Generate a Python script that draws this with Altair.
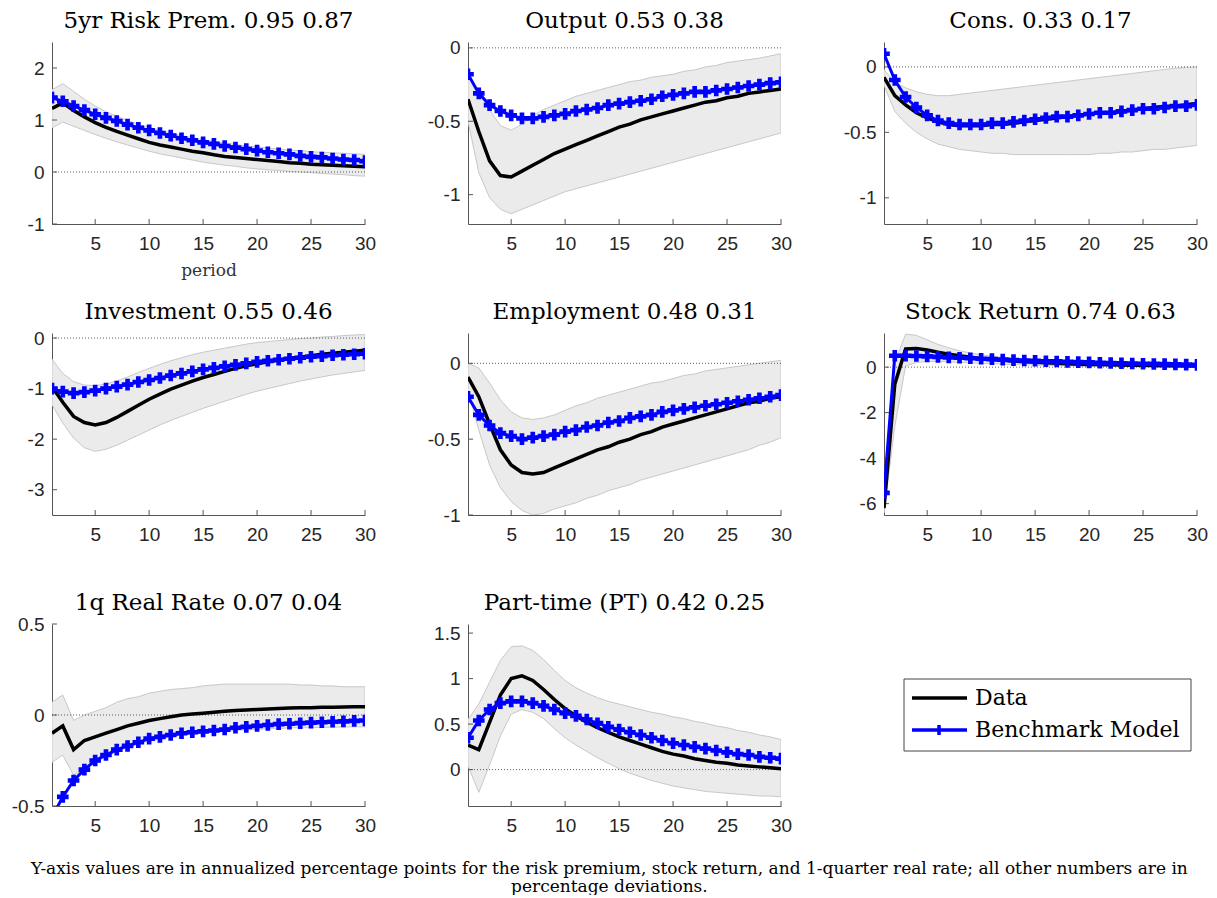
import altair as alt
import pandas as pd

periods = list(range(1, 31))
x_ticks = [5, 10, 15, 20, 25, 30]

# 5yr risk premium
rp_data = [1.22, 1.33, 1.18, 1.06, 0.95, 0.86, 0.78, 0.71, 0.64, 0.57,
           0.52, 0.48, 0.44, 0.40, 0.37, 0.33, 0.30, 0.28, 0.26, 0.24,
           0.22, 0.20, 0.18, 0.17, 0.15, 0.14, 0.13, 0.12, 0.11, 0.10]
rp_model = [1.43, 1.36, 1.27, 1.19, 1.11, 1.04, 0.98, 0.91, 0.85, 0.80,
            0.75, 0.70, 0.65, 0.61, 0.57, 0.54, 0.50, 0.47, 0.44, 0.41,
            0.38, 0.36, 0.34, 0.31, 0.29, 0.28, 0.26, 0.24, 0.23, 0.21]
rp_hi = [1.58, 1.70, 1.55, 1.40, 1.27, 1.16, 1.07, 0.99, 0.92, 0.86,
         0.80, 0.75, 0.70, 0.66, 0.62, 0.59, 0.56, 0.53, 0.50, 0.48,
         0.46, 0.44, 0.42, 0.41, 0.39, 0.38, 0.37, 0.36, 0.35, 0.34]
rp_lo = [0.85, 0.96, 0.88, 0.80, 0.72, 0.65, 0.58, 0.52, 0.46, 0.40,
         0.35, 0.31, 0.27, 0.23, 0.19, 0.16, 0.13, 0.11, 0.08, 0.06,
         0.04, 0.03, 0.01, 0.00, -0.01, -0.03, -0.04, -0.05, -0.07, -0.08]

# output
y_data = [-0.35, -0.57, -0.77, -0.87, -0.88, -0.84, -0.80, -0.76, -0.72, -0.69,
          -0.66, -0.63, -0.60, -0.57, -0.54, -0.52, -0.49, -0.47, -0.45, -0.43,
          -0.41, -0.39, -0.37, -0.36, -0.34, -0.33, -0.31, -0.30, -0.29, -0.28]
y_model = [-0.18, -0.31, -0.39, -0.43, -0.46, -0.48, -0.48, -0.47, -0.46, -0.45,
           -0.43, -0.42, -0.41, -0.39, -0.38, -0.37, -0.36, -0.35, -0.33, -0.32,
           -0.31, -0.30, -0.30, -0.29, -0.28, -0.27, -0.26, -0.25, -0.24, -0.235]
y_hi = [-0.20, -0.30, -0.42, -0.53, -0.56, -0.52, -0.46, -0.42, -0.39, -0.36,
        -0.33, -0.31, -0.29, -0.27, -0.25, -0.23, -0.22, -0.20, -0.19, -0.18,
        -0.16, -0.15, -0.13, -0.12, -0.10, -0.09, -0.08, -0.07, -0.055, -0.04]
y_lo = [-0.50, -0.85, -1.02, -1.10, -1.13, -1.10, -1.07, -1.04, -1.01, -0.98,
        -0.96, -0.94, -0.92, -0.90, -0.88, -0.86, -0.84, -0.82, -0.80, -0.78,
        -0.76, -0.74, -0.72, -0.70, -0.68, -0.66, -0.64, -0.62, -0.60, -0.58]

# consumption
c_data = [-0.08, -0.22, -0.29, -0.35, -0.39, -0.42, -0.44, -0.45, -0.45, -0.45,
          -0.44, -0.44, -0.43, -0.42, -0.41, -0.40, -0.39, -0.38, -0.37, -0.36,
          -0.35, -0.35, -0.34, -0.33, -0.32, -0.31, -0.30, -0.30, -0.29, -0.28]
c_model = [0.10, -0.10, -0.23, -0.31, -0.37, -0.41, -0.43, -0.44, -0.44, -0.44,
           -0.43, -0.43, -0.42, -0.41, -0.40, -0.39, -0.38, -0.38, -0.37, -0.36,
           -0.35, -0.35, -0.34, -0.33, -0.32, -0.32, -0.31, -0.30, -0.30, -0.29]
c_hi = [-0.02, -0.12, -0.16, -0.19, -0.21, -0.22, -0.22, -0.21, -0.20, -0.19,
        -0.18, -0.17, -0.16, -0.15, -0.14, -0.13, -0.12, -0.11, -0.10, -0.09,
        -0.08, -0.07, -0.06, -0.05, -0.04, -0.03, -0.02, -0.01, -0.005, 0.0]
c_lo = [-0.14, -0.34, -0.43, -0.50, -0.55, -0.59, -0.61, -0.63, -0.64, -0.65,
        -0.66, -0.66, -0.67, -0.67, -0.67, -0.67, -0.67, -0.67, -0.67, -0.67,
        -0.66, -0.66, -0.65, -0.65, -0.64, -0.63, -0.63, -0.62, -0.61, -0.60]

# investment
i_data = [-0.96, -1.27, -1.55, -1.67, -1.72, -1.67, -1.57, -1.45, -1.33, -1.21,
          -1.11, -1.01, -0.93, -0.85, -0.78, -0.72, -0.66, -0.60, -0.55, -0.51,
          -0.47, -0.44, -0.40, -0.38, -0.35, -0.32, -0.30, -0.28, -0.26, -0.24]
i_model = [-1.00, -1.06, -1.09, -1.07, -1.04, -1.00, -0.96, -0.92, -0.87, -0.83,
           -0.79, -0.74, -0.70, -0.66, -0.62, -0.59, -0.56, -0.53, -0.50, -0.47,
           -0.45, -0.43, -0.41, -0.39, -0.37, -0.36, -0.34, -0.33, -0.32, -0.31]
i_hi = [-0.42, -0.70, -0.86, -0.93, -0.94, -0.91, -0.85, -0.77, -0.68, -0.60,
        -0.52, -0.45, -0.39, -0.33, -0.28, -0.24, -0.20, -0.16, -0.12, -0.09,
        -0.07, -0.05, -0.03, -0.01, 0.00, 0.02, 0.03, 0.05, 0.06, 0.07]
i_lo = [-1.32, -1.68, -1.98, -2.17, -2.24, -2.20, -2.12, -2.02, -1.92, -1.82,
        -1.72, -1.63, -1.55, -1.47, -1.39, -1.32, -1.25, -1.18, -1.11, -1.05,
        -1.00, -0.95, -0.90, -0.85, -0.81, -0.77, -0.73, -0.70, -0.67, -0.64]

# employment
n_data = [-0.09, -0.22, -0.40, -0.57, -0.67, -0.72, -0.73, -0.72, -0.69, -0.66,
          -0.63, -0.60, -0.57, -0.55, -0.52, -0.50, -0.47, -0.45, -0.42, -0.40,
          -0.38, -0.36, -0.34, -0.32, -0.30, -0.28, -0.26, -0.25, -0.23, -0.22]
n_model = [-0.22, -0.34, -0.41, -0.46, -0.48, -0.50, -0.49, -0.48, -0.47, -0.45,
           -0.44, -0.42, -0.41, -0.39, -0.38, -0.36, -0.35, -0.34, -0.32, -0.31,
           -0.30, -0.29, -0.28, -0.27, -0.26, -0.25, -0.24, -0.23, -0.22, -0.21]
n_hi = [0.00, -0.03, -0.13, -0.24, -0.32, -0.36, -0.37, -0.36, -0.34, -0.31,
        -0.28, -0.26, -0.23, -0.21, -0.19, -0.17, -0.15, -0.13, -0.12, -0.10,
        -0.08, -0.07, -0.05, -0.04, -0.03, -0.02, -0.01, 0.00, 0.01, 0.02]
n_lo = [-0.18, -0.44, -0.67, -0.82, -0.91, -0.97, -1.00, -0.99, -0.96, -0.94,
        -0.92, -0.89, -0.87, -0.84, -0.82, -0.80, -0.77, -0.75, -0.73, -0.71,
        -0.69, -0.67, -0.65, -0.63, -0.61, -0.59, -0.57, -0.54, -0.52, -0.49]

# stock return
s_data = [-6.20, -0.75, 0.80, 0.82, 0.75, 0.65, 0.57, 0.50, 0.44, 0.38,
          0.34, 0.30, 0.27, 0.24, 0.21, 0.19, 0.17, 0.15, 0.13, 0.12,
          0.11, 0.10, 0.09, 0.08, 0.08, 0.07, 0.06, 0.06, 0.05, 0.05]
s_model = [-5.53, 0.50, 0.50, 0.49, 0.47, 0.45, 0.43, 0.41, 0.39, 0.37,
           0.35, 0.33, 0.31, 0.29, 0.28, 0.26, 0.25, 0.23, 0.22, 0.21,
           0.19, 0.18, 0.17, 0.16, 0.15, 0.14, 0.13, 0.12, 0.11, 0.10]
s_hi = [-5.20, 0.20, 1.45, 1.40, 1.20, 1.00, 0.85, 0.72, 0.62, 0.54,
        0.48, 0.43, 0.39, 0.36, 0.33, 0.30, 0.28, 0.26, 0.24, 0.22,
        0.21, 0.20, 0.19, 0.18, 0.17, 0.16, 0.16, 0.15, 0.15, 0.14]
s_lo = [-6.40, -2.60, 0.05, 0.20, 0.25, 0.25, 0.23, 0.21, 0.19, 0.17,
        0.15, 0.13, 0.11, 0.10, 0.09, 0.08, 0.07, 0.06, 0.05, 0.04,
        0.03, 0.03, 0.02, 0.02, 0.01, 0.01, 0.00, 0.00, -0.01, -0.01]

# 1q real rate
r_data = [-0.10, -0.06, -0.19, -0.14, -0.12, -0.10, -0.08, -0.06, -0.045, -0.03,
          -0.02, -0.01, 0.00, 0.005, 0.01, 0.015, 0.02, 0.025, 0.028, 0.03,
          0.033, 0.036, 0.038, 0.04, 0.04, 0.042, 0.043, 0.044, 0.045, 0.045]
r_model = [-0.56, -0.45, -0.36, -0.30, -0.25, -0.22, -0.19, -0.17, -0.15, -0.13,
           -0.12, -0.11, -0.10, -0.095, -0.09, -0.085, -0.08, -0.07, -0.065, -0.06,
           -0.055, -0.05, -0.048, -0.045, -0.042, -0.04, -0.037, -0.035, -0.032, -0.03]
r_hi = [0.07, 0.11, -0.03, 0.00, 0.02, 0.04, 0.07, 0.09, 0.10, 0.12,
        0.13, 0.14, 0.145, 0.15, 0.16, 0.165, 0.17, 0.17, 0.17, 0.17,
        0.17, 0.17, 0.17, 0.165, 0.165, 0.16, 0.16, 0.155, 0.155, 0.155]
r_lo = [-0.26, -0.22, -0.33, -0.30, -0.26, -0.23, -0.20, -0.18, -0.16, -0.14,
        -0.13, -0.12, -0.11, -0.105, -0.10, -0.095, -0.09, -0.085, -0.08, -0.08,
        -0.075, -0.075, -0.07, -0.07, -0.07, -0.068, -0.067, -0.066, -0.065, -0.065]

# part-time
pt_data = [0.27, 0.22, 0.52, 0.82, 1.00, 1.03, 0.98, 0.88, 0.77, 0.67,
           0.59, 0.52, 0.46, 0.41, 0.36, 0.32, 0.28, 0.24, 0.20, 0.17,
           0.15, 0.12, 0.10, 0.08, 0.07, 0.05, 0.04, 0.03, 0.02, 0.01]
pt_model = [0.35, 0.54, 0.66, 0.73, 0.75, 0.75, 0.73, 0.70, 0.66, 0.62,
            0.59, 0.55, 0.51, 0.47, 0.44, 0.41, 0.38, 0.35, 0.32, 0.29,
            0.27, 0.25, 0.23, 0.21, 0.19, 0.17, 0.16, 0.14, 0.13, 0.12]
pt_hi = [0.55, 0.72, 0.96, 1.20, 1.35, 1.36, 1.31, 1.21, 1.09, 0.98,
         0.90, 0.84, 0.79, 0.75, 0.72, 0.69, 0.66, 0.63, 0.61, 0.58,
         0.56, 0.53, 0.51, 0.48, 0.46, 0.43, 0.41, 0.38, 0.36, 0.33]
pt_lo = [0.04, -0.25, 0.05, 0.37, 0.61, 0.66, 0.63, 0.56, 0.45, 0.35,
         0.27, 0.20, 0.13, 0.07, 0.01, -0.04, -0.08, -0.12, -0.15, -0.18,
         -0.20, -0.22, -0.24, -0.25, -0.26, -0.27, -0.28, -0.29, -0.29, -0.30]

legend_labels = ['Data', 'Benchmark Model']
legend_colors = ['black', '#0000ff']

footnote = ['Y-axis values are in annualized percentage points for the risk premium, stock return, '
            'and 1-quarter real rate; all other numbers are in',
            'percentage deviations.']

W, H = 313, 182
AXIS_COLOR = '#555555'
SERIF = 'DejaVu Serif'


def createPanel(title, data, model, lo, hi, ydom, yticks, xtitle=''):
    df = pd.DataFrame({'period': periods, 'data': data, 'model': model, 'lo': lo, 'hi': hi})
    xs = alt.Scale(domain=[1, 30], nice=False, zero=False)
    ys = alt.Scale(domain=ydom, nice=False, zero=False)
    xax = alt.Axis(values=x_ticks, title=xtitle if xtitle else None)
    yax = alt.Axis(values=yticks, title=None, labelExpr="'' + datum.value", labelPadding=8)

    def X(f):
        return alt.X(f, scale=xs, axis=xax)

    def Y(f):
        return alt.Y(f, scale=ys, axis=yax)

    base = alt.Chart(df)
    band = base.mark_area(fill='#ebebeb', stroke='#c8c8c8', strokeWidth=1, clip=True).encode(
        x=X('period:Q'), y=Y('lo:Q'), y2='hi:Q')
    zero = alt.Chart(pd.DataFrame({'z': [0]})).mark_rule(
        color='#333333', strokeWidth=0.8, strokeDash=[1, 2]).encode(y=Y('z:Q'))
    xtk = alt.Chart(pd.DataFrame({'t': x_ticks})).mark_rule(color=AXIS_COLOR, strokeWidth=1).encode(
        x=X('t:Q'), y=alt.value(H), y2=alt.value(H - 5))
    ytk = alt.Chart(pd.DataFrame({'v': yticks})).mark_rule(color=AXIS_COLOR, strokeWidth=1).encode(
        y=Y('v:Q'), x=alt.value(0), x2=alt.value(5))
    dline = base.mark_line(color='black', strokeWidth=3.5, clip=True).encode(x=X('period:Q'), y=Y('data:Q'))
    mline = base.mark_line(color='#0000ff', strokeWidth=3, clip=True).encode(x=X('period:Q'), y=Y('model:Q'))
    mpts = base.mark_point(shape='cross', filled=True, size=135, color='#0000ff', opacity=1,
                           clip=True).encode(x=X('period:Q'), y=Y('model:Q'))
    head = alt.Chart(pd.DataFrame({'title': [title]})).mark_text(
        font=SERIF, fontSize=23, baseline='alphabetic', align='center', color='black').encode(
        x=alt.value(W / 2), y=alt.value(-14), text='title:N')
    return (band + zero + xtk + ytk + dline + mline + mpts + head).properties(width=W, height=H)


def createLegend():
    df = pd.DataFrame({'label': legend_labels, 'row': [0, 1]})
    rows = alt.Scale(domain=[0, 1], range=[74, 106])
    box = alt.Chart(pd.DataFrame({'b': [0]})).mark_rect(
        fill='white', stroke='#444444', strokeWidth=1).encode(
        x=alt.value(20), x2=alt.value(307), y=alt.value(55), y2=alt.value(127))
    lines = alt.Chart(df).mark_rule(strokeWidth=3.5).encode(
        x=alt.value(28), x2=alt.value(83),
        y=alt.Y('row:Q', scale=rows, axis=None),
        color=alt.Color('label:N', scale=alt.Scale(domain=legend_labels, range=legend_colors), legend=None))
    tick = alt.Chart(df).transform_filter(alt.datum.row == 1).mark_point(
        shape='M0,-1V1', size=100, strokeWidth=3.5, color='#0000ff', opacity=1).encode(
        x=alt.value(55), y=alt.Y('row:Q', scale=rows, axis=None))
    text = alt.Chart(df).mark_text(align='left', baseline='middle', font=SERIF, fontSize=22,
                                   color='black').encode(
        x=alt.value(91), y=alt.Y('row:Q', scale=rows, axis=None), text='label:N')
    return (box + lines + tick + text).properties(width=W, height=H)


cells = [
    createPanel('5yr Risk Prem.  0.95 0.87', rp_data, rp_model, rp_lo, rp_hi, [-1, 2.5], [-1, 0, 1, 2],
                xtitle='period'),
    createPanel('Output 0.53 0.38', y_data, y_model, y_lo, y_hi, [-1.2, 0.04], [-1, -0.5, 0]),
    createPanel('Cons.  0.33 0.17', c_data, c_model, c_lo, c_hi, [-1.2, 0.19], [-1, -0.5, 0]),
    createPanel('Investment 0.55 0.46', i_data, i_model, i_lo, i_hi, [-3.5, 0.1], [-3, -2, -1, 0]),
    createPanel('Employment 0.48 0.31', n_data, n_model, n_lo, n_hi, [-1, 0.2], [-1, -0.5, 0]),
    createPanel('Stock Return 0.74 0.63', s_data, s_model, s_lo, s_hi, [-6.5, 1.5], [-6, -4, -2, 0]),
    createPanel('1q Real Rate 0.07 0.04', r_data, r_model, r_lo, r_hi, [-0.5, 0.5], [-0.5, 0, 0.5]),
    createPanel('Part-time (PT) 0.42 0.25', pt_data, pt_model, pt_lo, pt_hi, [-0.4, 1.6], [0, 0.5, 1, 1.5]),
    createLegend(),
]

chart = alt.concat(*cells, columns=3, spacing={'row': 109, 'column': 103}, bounds='flush'
        ).resolve_scale(x='independent', y='independent', color='independent'
        ).properties(
            title=alt.TitleParams(text=footnote, orient='bottom', anchor='middle', font=SERIF,
                                  fontSize=17, fontWeight='normal', color='black', lineHeight=18,
                                  offset=26),
            padding={'left': 3, 'top': 2, 'right': 0, 'bottom': 0}
        ).configure_view(strokeWidth=0
        ).configure_axis(domainColor=AXIS_COLOR, domainWidth=1, ticks=False, grid=False,
                         labelFont='Liberation Sans', labelFontSize=19, labelColor='#262626',
                         labelPadding=10, labelFlush=False,
                         titleFont=SERIF, titleFontSize=17, titleFontWeight='normal',
                         titleColor='#333333', titlePadding=9)

chart.save('out.html', embed_options={'renderer': 'svg', 'actions': False})
